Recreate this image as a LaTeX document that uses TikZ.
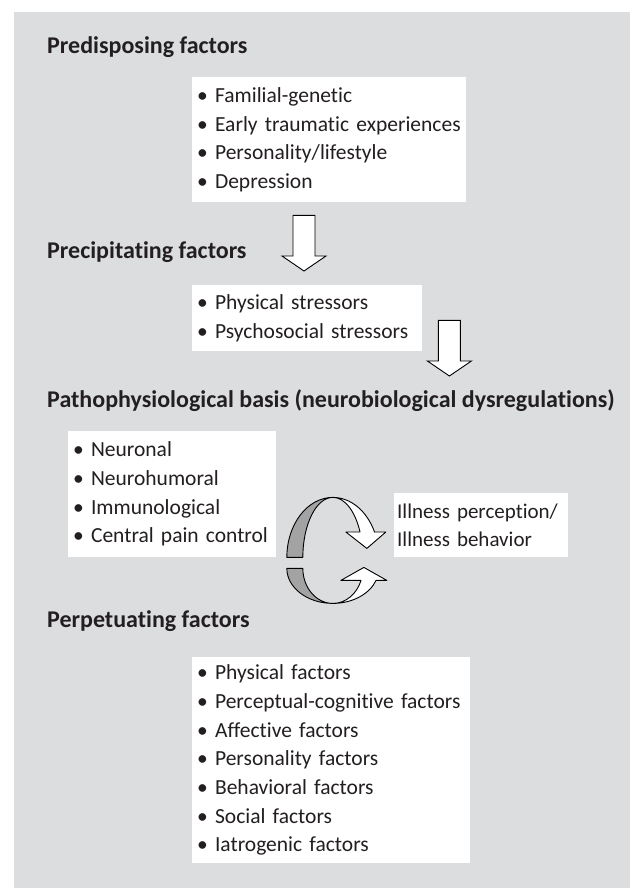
\documentclass[tikz,border=0pt]{standalone}
\usepackage{fontspec}
\setmainfont{Carlito}[Ligatures=NoCommon]
\usetikzlibrary{positioning,calc}
\definecolor{bggray}{HTML}{DCDDDF}
\definecolor{ribgray}{HTML}{A3A3A3}
\definecolor{txt}{HTML}{231F20}
\newcommand{\itemfont}{\fontsize{21.5}{28.7}\selectfont}
\newcommand{\headfont}{\bfseries\fontsize{24}{28}\selectfont}
\newcommand{\bigarrow}[2]{\draw[blockarrow] ($(#1)+(-11,0)$) -- ($(#2)+(-11,-15)$) -- ($(#2)+(-22,-15)$) -- (#2)
  -- ($(#2)+(22,-15)$) -- ($(#2)+(11,-15)$) -- ($(#1)+(11,0)$) -- cycle;}

\begin{document}
\begin{tikzpicture}[x=1pt,y=-1pt,
  heading/.style={anchor=base west,inner sep=0pt,font=\headfont,text=txt},
  itembox/.style={fill=white,anchor=north west,align=left,inner xsep=5pt,inner ysep=0pt,font=\itemfont,text=txt},
  blockarrow/.style={draw=black,fill=white,line width=0.9pt,line join=miter},
  ribbon/.style={draw=black,line width=0.9pt,line join=round}]
  \useasboundingbox (0,0) rectangle (630,892);
  \fill[bggray] (14,12) rectangle (630,888);

  \node[heading] (predh) at (47,53) {Predisposing factors};
  \node[heading] (prech) at (47,258) {Precipitating factors};
  \node[heading] (pathh) at (47,407) {Pathophysiological basis (neurobiological dysregulations)};
  \node[heading] (perph) at (47,627) {Perpetuating factors};

  \node[itembox,text width=264pt,minimum height=125pt] (pre) at (192,77)
    {• Familial-genetic\\ • Early traumatic experiences\\ • Personality/lifestyle\\ • Depression};
  \node[itembox,text width=220pt,minimum height=66pt] (prec) at (192,285)
    {• Physical stressors\\ • Psychosocial stressors};
  \node[itembox,text width=198pt,minimum height=126pt] (bio) at (68,431)
    {• Neuronal\\ • Neurohumoral\\ • Immunological\\ • Central pain control};
  \node[itembox,inner xsep=3pt,text width=168pt,minimum height=64pt,font=\fontsize{21}{28.7}\selectfont] (ill) at (394,493)
    {Illness perception/\\ Illness behavior};
  \node[itembox,text width=268pt,minimum height=206pt] (perp) at (192,657)
    {• Physical factors\\ • Perceptual-cognitive factors\\ • Affective factors\\ • Personality factors\\
     • Behavioral factors\\ • Social factors\\ • Iatrogenic factors};

  \coordinate (a1s) at ($(pre.south west)+(112,13)$);
  \coordinate (a1e) at ($(prec.north west)+(112,-14)$);
  \coordinate (a2s) at ($(prec.south east)+(27,-31)$);
  \coordinate (a2e) at ($(a2s |- pathh.base)+(0,-31)$);
  \bigarrow{a1s}{a1e}
  \bigarrow{a2s}{a2e}

  \coordinate (cyc) at ($(bio.south east)!0.48!(ill.south west)$);
  \coordinate (cyc2) at ($(cyc)+(0,11)$);
  \draw[ribbon,fill=ribgray] ($(cyc)+(-46,0)$) arc[start angle=180,end angle=90,x radius=46pt,y radius=60pt]
    arc[start angle=90,end angle=180,x radius=30pt,y radius=60pt] -- cycle;
  \draw[ribbon,fill=white] ($(cyc)+(0,-60)$) arc[start angle=90,end angle=25,x radius=46pt,y radius=60pt]
    -- ($(cyc)+(53,-25.4)$) -- ($(cyc)+(34,-9)$) -- ($(cyc)+(13,-25.4)$) -- ($(cyc)+(27.2,-25.4)$)
    arc[start angle=25,end angle=90,x radius=30pt,y radius=60pt] -- cycle;
  \draw[ribbon,fill=ribgray] ($(cyc2)+(-46,0)$) arc[start angle=180,end angle=270,x radius=46pt,y radius=35pt]
    arc[start angle=270,end angle=180,x radius=30pt,y radius=35pt] -- cycle;
  \draw[ribbon,fill=white] ($(cyc2)+(0,35)$) arc[start angle=270,end angle=340,x radius=46pt,y radius=35pt]
    -- ($(cyc2)+(54,12)$) -- ($(cyc2)+(31,-1)$) -- ($(cyc2)+(8,12)$) -- ($(cyc2)+(28.2,12)$)
    arc[start angle=340,end angle=270,x radius=30pt,y radius=35pt] -- cycle;
\end{tikzpicture}
\end{document}
